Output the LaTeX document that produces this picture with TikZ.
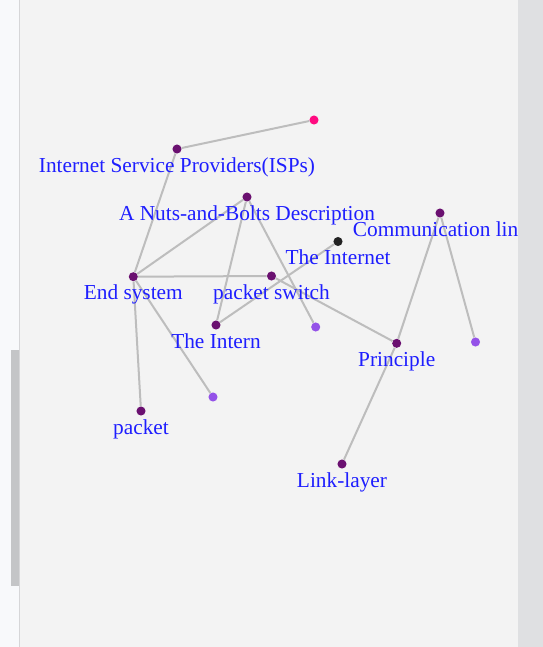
\documentclass[tikz,border=0pt]{standalone}
\usepackage{fontspec}
\setmainfont{Liberation Serif}
\usepackage{xcolor}
\definecolor{PageGray}{RGB}{243,243,243}
\definecolor{SideWhite}{RGB}{248,249,251}
\definecolor{SideLine}{RGB}{214,214,216}
\definecolor{BarGray}{RGB}{196,197,199}
\definecolor{RightGray}{RGB}{223,224,226}
\definecolor{DeepPlum}{RGB}{106,16,112}
\definecolor{SoftViolet}{RGB}{148,82,232}
\definecolor{HotPink}{RGB}{255,10,128}
\definecolor{InkBlack}{RGB}{34,34,34}
\definecolor{LinkGray}{RGB}{189,189,189}
\definecolor{LabelBlue}{RGB}{30,30,255}

\begin{document}
\begin{tikzpicture}[
    x=0.75pt, y=-0.75pt,
    dot/.style={
        circle, inner sep=0pt, minimum size=6.8pt, fill=DeepPlum
    },
    leaf/.style={
        dot, fill=SoftViolet
    },
    link/.style={
        draw=LinkGray, line width=1.5pt
    },
    lbl/.style={
        font=\fontsize{16pt}{19pt}\selectfont, text=LabelBlue,
        anchor=base, inner sep=0pt
    }
]

% ====== FOND ======
\useasboundingbox (0,0) rectangle (543,647);
\fill[PageGray] (0,0) rectangle (543,647);
\fill[SideWhite] (0,0) rectangle (19,647);
\draw[SideLine, line width=0.75pt] (19.5,0) -- (19.5,647);
\fill[BarGray] (11,350) rectangle (19,586);

% ====== NOEUDS ======
\node[dot, fill=HotPink]  (pink)    at (314,120) {};
\node[dot]                (isp)     at (177,149) {};
\node[dot]                (nuts)    at (247,197) {};
\node[dot]                (comm)    at (440,213) {};
\node[dot, fill=InkBlack] (inet)    at (338,241.5) {};
\node[dot]                (endsys)  at (133.3,276.7) {};
\node[dot]                (pswitch) at (271.5,276) {};
\node[dot]                (intern)  at (216,325) {};
\node[leaf]               (leafa)   at (315.7,327) {};
\node[dot]                (princ)   at (396.7,343.3) {};
\node[leaf]               (leafb)   at (475.5,342) {};
\node[leaf]               (leafc)   at (213,397) {};
\node[dot]                (pkt)     at (141,411) {};
\node[dot]                (link)    at (342,464) {};

% ====== LIENS ======
\draw[link] (isp) -- (pink);
\draw[link] (isp) -- (endsys);
\draw[link] (nuts) -- (endsys);
\draw[link] (nuts) -- (intern);
\draw[link] (nuts) -- (leafa);
\draw[link] (endsys) -- (pswitch);
\draw[link] (endsys) -- (pkt);
\draw[link] (endsys) -- (leafc);
\draw[link] (pswitch) -- (princ);
\draw[link] (intern) -- (inet);
\draw[link] (comm) -- (princ);
\draw[link] (comm) -- (leafb);
\draw[link] (princ) -- (link);

% ====== ETIQUETTES ======
\node[lbl] (ispT)     at ([yshift=-17.25pt]isp)     {Internet Service Providers(ISPs)};
\node[lbl] (nutsT)    at ([yshift=-17.25pt]nuts)    {A Nuts-and-Bolts Description};
\node[lbl, anchor=base west] (commT) at ([xshift=-65.5pt, yshift=-17.25pt]comm) {Communication lin};
\node[lbl] (inetT)    at ([yshift=-17.25pt]inet)    {The Internet};
\node[lbl] (endsysT)  at ([yshift=-17.25pt]endsys)  {End system};
\node[lbl] (pswitchT) at ([yshift=-17.25pt]pswitch) {packet switch};
\node[lbl] (internT)  at ([yshift=-17.25pt]intern)  {The Intern};
\node[lbl] (princT)   at ([yshift=-17.25pt]princ)   {Principle};
\node[lbl] (pktT)     at ([yshift=-17.25pt]pkt)     {packet};
\node[lbl] (linkT)    at ([yshift=-17.25pt]link)    {Link-layer};

% ====== BORD DROIT ======
\fill[RightGray] (518,0) rectangle (543,647);

\end{tikzpicture}
\end{document}
